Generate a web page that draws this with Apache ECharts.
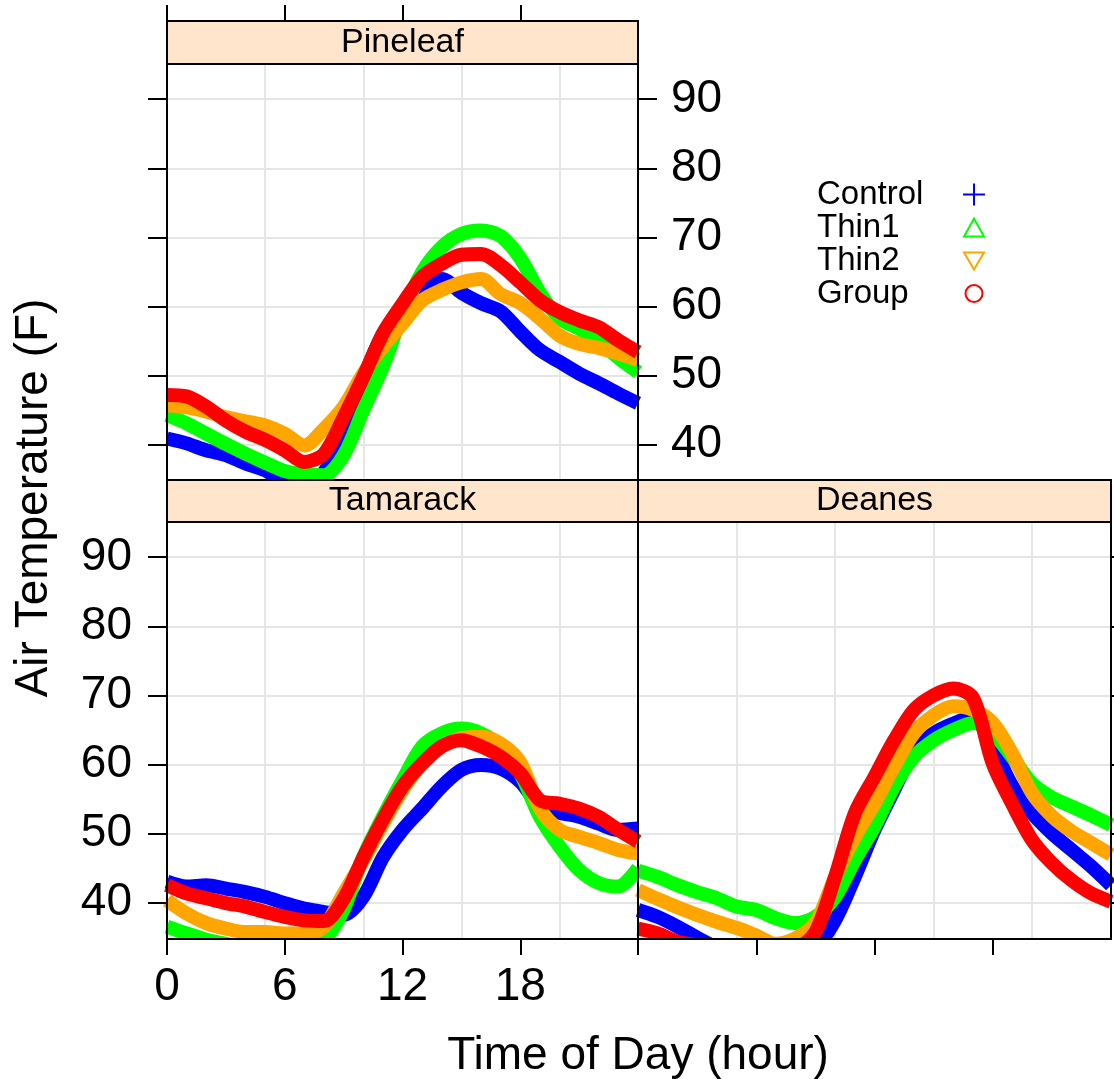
<!DOCTYPE html>
<html>
<head>
<meta charset="utf-8">
<title>Air Temperature by Time of Day</title>
<script src="https://cdn.jsdelivr.net/npm/echarts@6/dist/echarts.min.js"></script>
<style>
  html, body { margin: 0; padding: 0; background: #fff; }
  #chart { width: 1114px; height: 1079px; }
</style>
</head>
<body>
<div id="chart"></div>
<script>
// hour of day for every reading
const hours = [0, 1, 2, 3, 4, 5, 6, 7, 8, 9, 10, 11, 12, 13, 14, 15, 16, 17, 18, 19, 20, 21, 22, 23, 24]

const pineleafControl = [40.9, 40.2, 39.2, 38.5, 37.3, 36.3, 34.5, 33.5, 36.0, 41.5, 49.5, 56.0, 60.0, 63.0, 64.0, 62.0, 60.5, 59.3, 56.4, 53.7, 52.0, 50.3, 48.9, 47.4, 46.0]
const pineleafThin1 = [44.3, 43.1, 41.6, 40.1, 38.7, 37.4, 36.2, 35.7, 35.6, 38.5, 45.0, 51.3, 59.0, 65.0, 68.6, 70.5, 71.0, 70.2, 67.0, 62.0, 58.3, 56.8, 55.0, 52.6, 50.5]
const pineleafThin2 = [45.7, 45.4, 44.8, 44.0, 43.4, 42.8, 41.6, 39.9, 42.3, 45.5, 50.3, 54.2, 57.5, 60.9, 62.4, 63.5, 64.0, 61.8, 60.5, 58.3, 55.8, 54.6, 54.0, 53.2, 52.3]
const pineleafGroup = [47.2, 47.0, 45.5, 43.5, 41.9, 40.7, 39.2, 37.5, 38.7, 44.0, 49.8, 56.1, 60.4, 64.3, 66.2, 67.5, 67.6, 66.0, 63.5, 60.9, 59.2, 58.0, 57.0, 55.1, 53.4]

const tamarackControl = [43.0, 42.3, 42.5, 42.0, 41.5, 40.8, 39.9, 39.1, 38.6, 38.2, 40.8, 46.5, 50.5, 53.6, 56.8, 59.2, 59.9, 59.4, 57.5, 54.0, 53.0, 52.4, 51.4, 50.5, 50.7]
const tamarackThin1 = [36.5, 35.5, 34.6, 34.0, 33.5, 33.5, 33.5, 33.5, 34.5, 39.0, 46.6, 52.4, 57.7, 62.6, 64.5, 65.2, 64.5, 62.6, 58.7, 52.4, 48.1, 44.7, 42.8, 42.3, 45.0]
const tamarackThin2 = [40.3, 38.4, 37.0, 36.2, 35.7, 35.7, 35.5, 35.5, 36.5, 41.3, 46.1, 51.4, 56.3, 60.1, 62.6, 63.8, 64.0, 63.0, 60.3, 53.6, 50.5, 49.5, 48.6, 47.6, 47.1]
const tamarackGroup = [42.5, 41.3, 40.6, 39.9, 39.4, 38.6, 37.9, 37.4, 37.3, 40.5, 46.5, 52.0, 56.8, 60.1, 62.6, 63.5, 62.6, 61.1, 58.7, 54.8, 54.3, 53.6, 52.4, 50.5, 48.8]

const deanesControl = [38.9, 37.9, 36.5, 34.9, 33.5, 33.0, 33.0, 33.0, 33.0, 33.5, 37.4, 43.7, 50.5, 56.3, 62.0, 64.5, 65.9, 66.9, 62.5, 56.8, 52.9, 50.0, 47.6, 45.2, 42.5]
const deanesThin1 = [44.6, 43.7, 42.5, 41.5, 40.6, 39.4, 38.9, 37.7, 37.0, 37.9, 40.8, 46.1, 51.0, 56.8, 61.1, 63.5, 65.0, 66.0, 64.5, 61.0, 57.2, 55.2, 53.9, 52.6, 51.2]
const deanesThin2 = [41.8, 40.5, 39.3, 38.2, 37.2, 36.3, 35.2, 34.0, 34.8, 37.0, 43.7, 49.5, 54.3, 59.7, 64.5, 67.1, 68.4, 67.9, 66.0, 61.5, 55.8, 52.5, 50.3, 48.6, 46.9]
const deanesGroup = [36.2, 35.5, 34.3, 33.8, 33.5, 33.5, 33.5, 33.5, 33.5, 35.7, 43.7, 52.9, 58.2, 63.5, 67.9, 70.0, 71.0, 69.6, 60.1, 54.2, 49.0, 45.7, 43.2, 41.3, 40.1]

const groups = ['Control', 'Thin1', 'Thin2', 'Group']
const colors = ['#0000ff', '#00ff00', '#ffa500', '#ff0000']
const xTicks = [0, 6, 12, 18]
const yTicks = [40, 50, 60, 70, 80, 90]

const FONT = '"Liberation Sans", Arial, sans-serif'
const GRID_COLOR = '#e6e6e6'
const XMAX = 24

const chart = echarts.init(document.getElementById('chart'))

function splitX(gridIndex) {
  return {
    type: 'value', gridIndex, min: 0, max: XMAX, interval: 5, z: 0,
    axisLine: { show: false, onZero: false },
    axisTick: { show: false },
    axisLabel: { show: false },
    splitLine: { show: true, lineStyle: { color: GRID_COLOR, width: 2 } }
  }
}

function splitY(gridIndex, yMin) {
  return {
    type: 'value', gridIndex, position: 'left', min: yMin, max: 95.1, z: 0,
    axisLine: { show: false, onZero: false },
    axisTick: { show: false, customValues: yTicks },
    axisLabel: { show: false },
    splitLine: { show: true, lineStyle: { color: GRID_COLOR, width: 2 } }
  }
}

function tickX(gridIndex, position, showLabels, offset) {
  return {
    type: 'value', gridIndex, position, offset, min: 0, max: XMAX, z: 10,
    axisLine: { show: false, onZero: false },
    axisTick: { show: true, customValues: xTicks, length: 16, lineStyle: { color: '#000', width: 2 } },
    axisLabel: {
      show: showLabels, customValues: xTicks, margin: 25,
      fontSize: 46, fontFamily: FONT, color: '#000'
    },
    splitLine: { show: false }
  }
}

function tickY(gridIndex, position, showLabels, yMin) {
  return {
    type: 'value', gridIndex, position, min: yMin, max: 95.1, z: 10,
    axisLine: { show: false, onZero: false },
    axisTick: { show: true, customValues: yTicks, length: 19, lineStyle: { color: '#000', width: 2 } },
    axisLabel: {
      show: showLabels, customValues: yTicks, margin: position === 'left' ? 35 : 33,
      fontSize: 46, fontFamily: FONT, color: '#000'
    },
    splitLine: { show: false }
  }
}

const panels = [
  { xIdx: 1, yIdx: 2, values: [pineleafControl, pineleafThin1, pineleafThin2, pineleafGroup] },
  { xIdx: 3, yIdx: 4, values: [tamarackControl, tamarackThin1, tamarackThin2, tamarackGroup] },
  { xIdx: 5, yIdx: 6, values: [deanesControl, deanesThin1, deanesThin2, deanesGroup] }
]

const series = []
panels.forEach(p => {
  p.values.forEach((vals, g) => {
    series.push({
      name: groups[g],
      type: 'line',
      xAxisIndex: p.xIdx,
      yAxisIndex: p.yIdx,
      data: hours.map((h, i) => [h, vals[i]]),
      symbol: 'none',
      smooth: 0.3,
      clip: true,
      silent: true,
      z: 2,
      itemStyle: { color: colors[g] },
      lineStyle: { color: colors[g], width: 14, cap: 'butt', join: 'round' }
    })
  })
})

function strip(x, y, w, h, label) {
  return [
    { type: 'rect', z: 20, silent: true, shape: { x, y, width: w, height: h },
      style: { fill: '#ffe5cc', stroke: '#000', lineWidth: 2 } },
    { type: 'text', z: 21, silent: true, x: x + w / 2, y: y + h / 2,
      style: { text: label, font: '34px ' + FONT, fill: '#000', textAlign: 'center', textVerticalAlign: 'middle' } }
  ]
}

function border(x, y, w, h) {
  return { type: 'rect', z: 20, silent: true, shape: { x, y, width: w, height: h },
    style: { fill: 'none', stroke: '#000', lineWidth: 2 } }
}

function legendItem(name, icon, color) {
  return { name, icon, itemStyle: { color: 'none', borderColor: color, borderWidth: 2 } }
}

chart.setOption({
  animation: false,
  backgroundColor: '#fff',
  grid: [
    { left: 167, top: 64, width: 471, height: 416 },
    { left: 167, top: 522, width: 471, height: 417 },
    { left: 638, top: 522, width: 473, height: 417 }
  ],
  xAxis: [
    tickX(0, 'top', false, 43),
    splitX(0),
    tickX(1, 'bottom', true, 0),
    splitX(1),
    tickX(2, 'bottom', false, 0),
    splitX(2)
  ],
  yAxis: [
    tickY(0, 'left', false, 34.9),
    tickY(0, 'right', true, 34.9),
    splitY(0, 34.9),
    tickY(1, 'left', true, 34.7),
    splitY(1, 34.7),
    tickY(2, 'right', false, 34.7),
    splitY(2, 34.7)
  ],
  legend: {
    orient: 'vertical',
    left: 817,
    top: 178,
    padding: 0,
    itemGap: 0,
    itemWidth: 22,
    itemHeight: 22,
    align: 'right',
    selectedMode: false,
    formatter: '{n|{name}}',
    textStyle: {
      fontSize: 33, fontFamily: FONT, color: '#000',
      rich: { n: { width: 141, align: 'left', fontSize: 33, lineHeight: 34, fontFamily: FONT, color: '#000' } }
    },
    data: [
      legendItem('Control', 'path://M0,11L22,11M11,0L11,22', colors[0]),
      legendItem('Thin1', 'path://M0,0M22,22M1,20L21,20L11,2Z', colors[1]),
      legendItem('Thin2', 'path://M0,0M22,22M1,3L21,3L11,20Z', colors[2]),
      legendItem('Group', 'path://M0,0M22,22M2.5,11A8.5,8.5,0,1,1,19.5,11A8.5,8.5,0,1,1,2.5,11Z', colors[3])
    ]
  },
  graphic: [
    // hides the part of the thick lines that the clip lets through under the bottom panels
    { type: 'rect', z: 5, silent: true, shape: { x: 150, y: 940, width: 964, height: 9 }, style: { fill: '#fff' } },
    ...strip(167, 21, 471, 43, 'Pineleaf'),
    ...strip(167, 480, 471, 42, 'Tamarack'),
    ...strip(638, 480, 473, 42, 'Deanes'),
    border(167, 64, 471, 416),
    border(167, 522, 471, 417),
    border(638, 522, 473, 417),
    { type: 'text', z: 21, silent: true, x: 34, y: 498, rotation: Math.PI / 2,
      style: { text: 'Air Temperature (F)', font: '46px ' + FONT, fill: '#000', textAlign: 'center', textVerticalAlign: 'middle' } },
    { type: 'text', z: 21, silent: true, x: 638, y: 1056,
      style: { text: 'Time of Day (hour)', font: '46px ' + FONT, fill: '#000', textAlign: 'center', textVerticalAlign: 'middle' } }
  ],
  series
})
</script>
</body>
</html>
